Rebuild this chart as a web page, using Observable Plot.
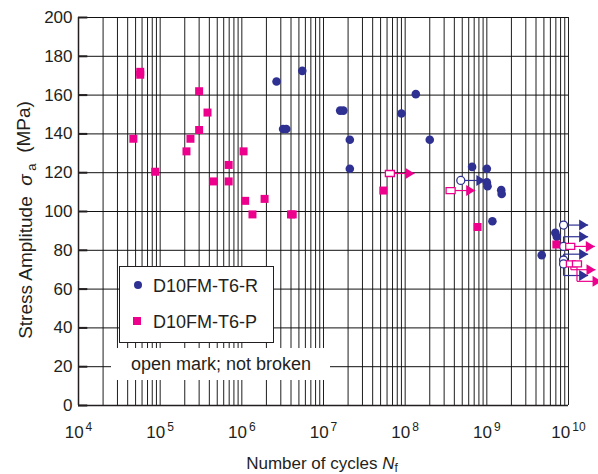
<!DOCTYPE html>
<html><head><meta charset="utf-8">
<script src="https://cdn.jsdelivr.net/npm/d3@7"></script>
<script src="https://cdn.jsdelivr.net/npm/@observablehq/plot@0.6"></script>
<style>body{margin:0;background:#fff;font-family:"Liberation Sans",Arial,sans-serif}</style>
</head><body><div id="chart"></div>
<script>
// ---- data ----
// D10FM-T6-R, broken (filled circles)
const rCycles = [2.66e6, 5.5e6, 3.2e6, 3.5e6, 1.6e7, 1.75e7, 2.1e7, 2.1e7, 1.35e8, 9.0e7, 2.0e8, 6.6e8, 1.0e9, 1.0e9, 1.02e9, 1.5e9, 1.52e9, 1.17e9, 4.7e9, 6.9e9, 7.2e9];
const rStress = [167, 172.5, 142.5, 142.5, 152, 152, 137, 122, 160.5, 150.5, 137, 123, 122, 115, 113, 111, 109, 95, 77.5, 89, 87];
// D10FM-T6-P, broken (filled squares)
const pCycles = [5.7e4, 5.7e4, 4.7e4, 8.7e4, 2.1e5, 2.35e5, 3.0e5, 3.0e5, 3.8e5, 1.05e6, 6.9e5, 4.5e5, 6.9e5, 1.1e6, 1.9e6, 1.35e6, 4.0e6, 4.2e6, 5.4e7, 7.7e8, 7.1e9];
const pStress = [172, 170.5, 137.5, 120.5, 131, 137.5, 142, 162, 151, 131, 124, 115.5, 115.5, 105.5, 106.5, 98.5, 98.5, 98.5, 110.8, 92, 83];
// run-outs (open marks, not broken): cycles, stress, stress level where the arrow is drawn
const rRunCycles = [4.8e8, 8.7e9, 8.7e9, 8.7e9, 8.7e9];
const rRunStress = [116, 93, 82, 75, 73];
const rRunArrow  = [116, 93, 87, 78, 67];
const pRunCycles = [6.5e7, 3.6e8, 1.05e10, 1.07e10, 1.27e10];
const pRunStress = [119.6, 110.8, 82, 73, 73];
const pRunArrow  = [119.6, 110.8, 82, 70, 64];
const ARROW_FACTOR = 2; // arrow spans x -> 2x cycles

const xTicks = [1e4, 1e5, 1e6, 1e7, 1e8, 1e9, 1e10];
const xTickExp = ["4", "5", "6", "7", "8", "9", "10"];
const yTicks = [0, 20, 40, 60, 80, 100, 120, 140, 160, 180, 200];
const legendLabels = ["D10FM-T6-R", "D10FM-T6-P"];
const noteText = "open mark; not broken";

const BLUE = "#2e3192", PINK = "#ec008c";

const minorX = d3.range(4, 10).flatMap(d => d3.range(1, 10).map(k => k * 10 ** d)).concat([1e10]);

const rData = rCycles.map((n, i) => ({n, s: rStress[i]}));
const pData = pCycles.map((n, i) => ({n, s: pStress[i]}));
const rRun = rRunCycles.map((n, i) => ({n, s: rRunStress[i], a: rRunArrow[i]}));
const pRun = pRunCycles.map((n, i) => ({n, s: pRunStress[i], a: pRunArrow[i]}));

const triRight = {draw(ctx) { ctx.moveTo(0, 0); ctx.lineTo(-9, -5.5); ctx.lineTo(-9, 5.5); ctx.closePath(); }};
const sq = {draw(ctx) { ctx.rect(-4, -4, 8, 8); }};
const openRect = {draw(ctx) { ctx.rect(-4.5, -3, 9, 6); }};

function runMarks(data, color, symbol, r) {
  return [
    Plot.link(data.filter(d => d.a !== d.s), {x1: "n", x2: "n", y1: "s", y2: "a", stroke: color, strokeWidth: 1.2}),
    Plot.link(data, {x1: "n", x2: d => d.n * ARROW_FACTOR, y1: "a", y2: "a", stroke: color, strokeWidth: 1.2}),
    Plot.dot(data, {x: d => d.n * ARROW_FACTOR, y: "a", symbol: triRight, fill: color, r: 4}),
    Plot.dot(data, {x: "n", y: "s", symbol, r, fill: "white", stroke: color, strokeWidth: 1.3})
  ];
}

const plot = Plot.plot({
  width: 598, height: 474,
  marginLeft: 78, marginRight: 30, marginTop: 17, marginBottom: 69,
  style: {fontFamily: "'Liberation Sans', Arial, sans-serif", fontSize: "17px", color: "#231f20", background: "white", overflow: "visible"},
  x: {type: "log", domain: [1e4, 1e10], ticks: xTicks, tickSize: 0, tickPadding: 20, label: null,
      tickFormat: d => "10^" + xTickExp[xTicks.findIndex(t => Math.abs(t - d) / t < 1e-6)]},
  y: {domain: [0, 200], ticks: yTicks, tickSize: 0, tickPadding: 6, label: null},
  marks: [
    Plot.ruleX(minorX, {stroke: "#1e1e1e", strokeWidth: 1}),
    Plot.ruleY(yTicks, {stroke: "#111", strokeWidth: 1}),
    Plot.ruleY(yTicks, {x1: 1e4, x2: 1.3e4, stroke: "#231f20", strokeWidth: 2}),
    Plot.ruleX([1e4], {stroke: "#231f20", strokeWidth: 1.5}),
    Plot.ruleY([0], {stroke: "#231f20", strokeWidth: 1.5}),
    ...runMarks(rRun, BLUE, "circle", 4),
    ...runMarks(pRun, PINK, openRect, 4),
    Plot.dot(rData, {x: "n", y: "s", r: 4.3, fill: BLUE}),
    Plot.dot(pData, {x: "n", y: "s", symbol: sq, r: 4, fill: PINK})
  ]
});
document.getElementById("chart").appendChild(plot);

const svg = d3.select(plot);
// superscript x tick labels
svg.selectAll("text").each(function() {
  const t = this.textContent;
  const m = /^10\^(\d+)$/.exec(t);
  if (!m) return;
  const el = d3.select(this);
  el.text(null);
  el.append("tspan").text("10");
  el.append("tspan").attr("dy", "-0.55em").attr("font-size", "12px").attr("dx", "2").text(m[1]);
});

// axis titles
const yl = svg.append("text")
  .attr("transform", "translate(32,220) rotate(-90)")
  .attr("text-anchor", "middle").attr("font-size", 19).attr("fill", "#231f20");
yl.append("tspan").text("Stress Amplitude  ");
yl.append("tspan").attr("font-style", "italic").text("σ");
yl.append("tspan").attr("font-size", 13).attr("dy", "0.3em").text(" a");
yl.append("tspan").attr("dy", "-0.3em").text("  (MPa)");

const xl = svg.append("text").attr("x", 322).attr("y", 469)
  .attr("text-anchor", "middle").attr("font-size", 17).attr("fill", "#231f20");
xl.append("tspan").text("Number of cycles ");
xl.append("tspan").attr("font-style", "italic").text("N");
xl.append("tspan").attr("font-size", 12).attr("dy", "0.25em").text("f");

// legend
const lg = svg.append("g").attr("text-anchor", "start");
lg.append("rect").attr("x", 119.5).attr("y", 266.5).attr("width", 154).attr("height", 76)
  .attr("fill", "white").attr("stroke", "#231f20").attr("stroke-width", 1);
lg.append("circle").attr("cx", 138).attr("cy", 285).attr("r", 4).attr("fill", BLUE);
lg.append("rect").attr("x", 133).attr("y", 317).attr("width", 8).attr("height", 8).attr("fill", PINK);
lg.append("text").attr("x", 153).attr("y", 292).attr("text-anchor", "start").attr("font-size", 18).attr("fill", "#231f20").text(legendLabels[0]);
lg.append("text").attr("x", 153).attr("y", 328).attr("text-anchor", "start").attr("font-size", 18).attr("fill", "#231f20").text(legendLabels[1]);
// note
svg.append("rect").attr("x", 111).attr("y", 348).attr("width", 219).attr("height", 32).attr("fill", "white");
svg.append("text").attr("x", 221).attr("y", 370).attr("text-anchor", "middle").attr("font-size", 18)
  .attr("fill", "#231f20").text(noteText);
</script>
</body></html>
